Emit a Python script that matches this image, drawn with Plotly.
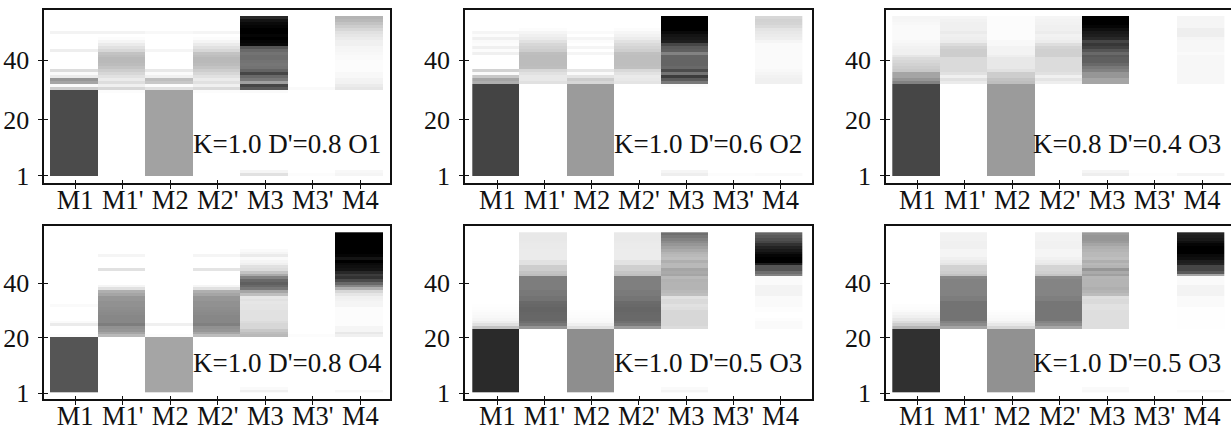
import plotly.graph_objects as go

COLUMNS = ["M1", "M1'", "M2", "M2'", "M3", "M3'", "M4"]
LABELS = ["K=1.0 D'=0.8 O1", "K=1.0 D'=0.6 O2", "K=0.8 D'=0.4 O3",
          "K=1.0 D'=0.8 O4", "K=1.0 D'=0.5 O3", "K=1.0 D'=0.5 O3"]
Y_TICK_TEXT = ["1", "20", "40"]

# Grey level of each cell (0 black .. 255 white), listed from row 1 upward.
P1_M1 = [75]*29 + [205, 250, 165, 150, 235, 250, 220, 255, 255, 255, 255, 255, 255, 238, 255, 255, 255, 255, 255, 243]
P1_M1p = [255]*28 + [252, 215, 240, 222, 235, 225, 215, 205, 195, 188, 185, 185, 190, 195, 215, 225, 235, 245, 252, 255, 243]
P1_M2 = [162]*29 + [225, 252, 200, 190, 240, 250, 232, 255, 255, 255, 255, 255, 255, 245, 255, 255, 255, 255, 255, 248]
P1_M2p = [255]*28 + [252, 218, 240, 225, 235, 225, 215, 205, 195, 188, 185, 185, 190, 195, 215, 225, 235, 245, 252, 255, 245]
P1_M3 = [225, 245] + [255]*26 + [250, 90, 70, 160, 120, 105, 70, 100, 115, 118, 115, 110, 110, 115, 105, 85, 10, 5, 0, 5, 0, 0, 5, 10, 20, 40]
P1_M3p = [252] + [255]*28 + [250]
P1_M4 = [245, 248] + [255]*27 + [230, 235, 242, 243, 248, 248, 252, 252, 252, 252, 250, 250, 248, 246, 245, 240, 240, 235, 230, 225, 215, 205, 195, 185, 180]

P2_M1 = [68]*31 + [175, 165, 200, 250, 210, 255, 255, 255, 255, 255, 240, 252, 240, 252, 250, 240, 252, 245]
P2_M1p = [255]*31 + [225, 232, 232, 225, 215, 190, 188, 188, 188, 188, 190, 205, 210, 215, 225, 235, 240, 245, 252]
P2_M2 = [155]*31 + [215, 205, 228, 250, 230, 255, 255, 255, 255, 255, 245, 255, 245, 255, 252, 245, 255, 250]
P2_M2p = [255]*31 + [228, 232, 234, 226, 216, 192, 190, 190, 190, 190, 192, 206, 212, 218, 226, 236, 242, 246, 252]
P2_M3 = [238, 245] + [255]*27 + [253, 250, 120, 90, 60, 115, 75, 105, 100, 100, 100, 100, 130, 95, 90, 70, 30, 25, 20, 10, 0, 0, 0, 0, 0]
P2_M3p = [252]
P2_M4 = [250] + [255]*30 + [240, 240, 242, 245, 248, 250, 250, 250, 250, 250, 250, 250, 250, 250, 245, 238, 235, 232, 228, 218, 212, 210, 215]

P3_M1 = [70]*31 + [130, 150, 165, 165, 200, 205, 210, 215, 220, 230, 240, 240, 242, 245, 248, 250, 250, 250, 250, 250, 248, 246, 245]
P3_M1p = [255]*31 + [235, 225, 240, 225, 218, 218, 218, 218, 218, 205, 205, 205, 210, 220, 235, 238, 240, 235, 240, 240, 240, 242, 245]
P3_M2 = [155]*31 + [190, 195, 205, 205, 225, 232, 232, 232, 232, 238, 243, 243, 243, 248, 248, 252, 252, 252, 252, 252, 252, 252, 252]
P3_M2p = [255]*31 + [238, 228, 240, 225, 220, 220, 220, 220, 220, 208, 208, 208, 212, 222, 236, 240, 242, 236, 240, 240, 242, 243, 245]
P3_M3 = [238, 245] + [255]*29 + [165, 165, 150, 150, 130, 120, 105, 95, 95, 90, 105, 85, 65, 55, 70, 40, 30, 25, 15, 5, 0, 0, 0]
P3_M3p = [253]
P3_M4 = [245] + [255]*30 + [247, 247, 247, 247, 247, 247, 247, 247, 247, 247, 250, 247, 247, 247, 247, 245, 238, 238, 238, 245, 245, 245, 245]

P4_M1 = [85]*20 + [252, 255, 255, 255, 235, 250, 255, 255, 255, 255, 255, 250]
P4_M1p = [255]*20 + [185, 165, 150, 145, 125, 135, 135, 135, 138, 140, 142, 145, 145, 150, 150, 165, 175, 225, 245, 255, 255, 255, 255, 255, 225, 255, 255, 255, 255, 245]
P4_M2 = [165]*20 + [252, 255, 255, 255, 240]
P4_M2p = [255]*20 + [188, 166, 150, 145, 128, 135, 135, 135, 138, 140, 142, 145, 145, 150, 150, 165, 175, 225, 245, 255, 255, 255, 255, 255, 228, 255, 255, 255, 255, 245]
P4_M3 = [240, 250] + [255]*18 + [185, 190, 200, 215, 215, 220, 225, 225, 225, 225, 228, 228, 230, 225, 230, 190, 165, 120, 105, 95, 105, 130, 170, 195, 220, 225, 240, 245, 250, 235, 245, 250]
P4_M3p = [254] + [255]*19 + [252]
P4_M4 = [248] + [255]*19 + [240, 232, 245, 245, 252, 252, 252, 252, 252, 252, 252, 245, 245, 242, 240, 230, 215, 175, 135, 105, 75, 50, 60, 40, 20, 15, 10, 0, 20, 5, 0, 0, 0, 0, 0, 0, 0, 0]

P5_M1 = [42]*23 + [195, 225, 238, 245, 248, 250, 252, 253, 254]
P5_M1p = [255]*23 + [150, 120, 110, 103, 103, 102, 100, 100, 103, 105, 115, 115, 120, 120, 125, 125, 125, 125, 125, 190, 195, 205, 205, 225, 225, 235, 235, 235, 235, 234, 234, 233, 232, 232, 232]
P5_M2 = [142]*23 + [225, 240, 248, 250, 252, 253, 254]
P5_M2p = [255]*23 + [155, 122, 112, 105, 105, 104, 102, 102, 105, 107, 117, 117, 122, 122, 127, 127, 127, 127, 127, 192, 197, 207, 207, 226, 226, 236, 236, 236, 236, 235, 235, 234, 233, 233, 233]
P5_M3 = [245, 250] + [255]*21 + [220, 215, 215, 215, 215, 215, 215, 222, 225, 218, 218, 225, 190, 185, 180, 180, 180, 178, 185, 165, 170, 165, 185, 185, 175, 190, 185, 180, 170, 160, 150, 140, 130, 120, 110]
P5_M3p = [255]
P5_M4 = [255]*23 + [250, 250, 250, 253, 255, 255, 253, 253, 250, 250, 250, 250, 243, 243, 243, 243, 250, 250, 250, 130, 110, 85, 85, 30, 0, 0, 5, 15, 25, 35, 50, 70, 80, 90, 100]

P6_M1 = [48]*23 + [180, 205, 220, 232, 240, 245, 250, 252, 253]
P6_M1p = [255]*23 + [165, 140, 130, 115, 115, 115, 115, 115, 115, 115, 125, 125, 130, 130, 130, 130, 130, 130, 135, 195, 205, 210, 210, 230, 235, 240, 245, 245, 245, 240, 240, 240, 242, 242, 242]
P6_M2 = [145]*23 + [215, 232, 242, 248, 250, 252, 254]
P6_M2p = [255]*23 + [168, 142, 132, 118, 118, 118, 118, 118, 118, 118, 127, 127, 132, 132, 132, 132, 132, 132, 137, 197, 207, 212, 212, 232, 236, 241, 245, 245, 245, 241, 241, 241, 243, 243, 243]
P6_M3 = [248, 250] + [255]*21 + [222, 222, 222, 222, 222, 222, 222, 225, 225, 218, 218, 222, 188, 180, 175, 180, 180, 180, 182, 160, 170, 150, 180, 185, 175, 190, 185, 185, 180, 175, 165, 155, 150, 150, 155]
P6_M3p = [254]
P6_M4 = [248] + [255]*22 + [254, 254, 254, 254, 254, 254, 254, 254, 250, 250, 250, 250, 243, 243, 243, 243, 250, 250, 250, 165, 90, 70, 70, 35, 30, 15, 10, 0, 0, 0, 5, 15, 25, 30, 35]

PANEL_VALUES = [
    [P1_M1, P1_M1p, P1_M2, P1_M2p, P1_M3, P1_M3p, P1_M4],
    [P2_M1, P2_M1p, P2_M2, P2_M2p, P2_M3, P2_M3p, P2_M4],
    [P3_M1, P3_M1p, P3_M2, P3_M2p, P3_M3, P3_M3p, P3_M4],
    [P4_M1, P4_M1p, P4_M2, P4_M2p, P4_M3, P4_M3p, P4_M4],
    [P5_M1, P5_M1p, P5_M2, P5_M2p, P5_M3, P5_M3p, P5_M4],
    [P6_M1, P6_M1p, P6_M2, P6_M2p, P6_M3, P6_M3p, P6_M4],
]
ROW_COUNTS = [54, 54, 54, 58, 58, 58]
Y_TICK_POS = [[0.5, 19.5, 39.5]] * 3 + [[0.14, 20.3, 40.0]] * 3

# Layout, all in pixels of the page
W, H = 1234, 430
FRAME_X = [(44.3, 390), (465, 811.7), (886, 1232)] * 2
CELLS_X = [(50, 382.7), (472.3, 802.7), (892.3, 1224.3)] * 2
FRAME_Y = [(10, 183.3)] * 3 + [(226, 399.3)] * 3
CELLS_Y = [(16, 175.7)] * 3 + [(232.3, 392.3)] * 3
LABEL_X = [193.3, 614, 1033] * 2
LABEL_Y = [144] * 3 + [363] * 3
INK = "#111111"
FONT = "Liberation Serif"

fig = go.Figure()
for i, values in enumerate(PANEL_VALUES):
    n = ROW_COUNTS[i]
    z = []
    for row in range(n):
        z.append([col[row] if row < len(col) else 255 for col in values])
    suffix = "" if i == 0 else str(i + 1)
    fig.add_trace(go.Heatmap(
        z=z, x=list(range(7)), y=list(range(1, n + 1)),
        zmin=0, zmax=255, showscale=False, xgap=0, ygap=0,
        colorscale=[[0, "#000000"], [1, "#ffffff"]],
        xaxis="x" + suffix, yaxis="y" + suffix,
    ))
    fl, fr = FRAME_X[i]
    ft, fb = FRAME_Y[i]
    cl, cr = CELLS_X[i]
    ct, cb = CELLS_Y[i]
    colw = (cr - cl) / 7
    rowh = (cb - ct) / n
    x_range = [-0.5 - (cl - fl) / colw, 6.5 + (fr - cr) / colw]
    y_range = [0.5 - (fb - cb) / rowh, n + 0.5 + (ct - ft) / rowh]
    xt = [k + 0.03 for k in range(7)]
    common = dict(showline=True, linecolor=INK, linewidth=1.7, mirror=True, automargin=False,
                  showgrid=False, zeroline=False, ticks="outside", ticklen=4,
                  tickwidth=1.3, tickcolor=INK, fixedrange=True)
    fig.update_layout({
        "xaxis" + suffix: dict(domain=[fl / W, fr / W], range=x_range, tickmode="array",
                               tickvals=xt, ticktext=COLUMNS, anchor="y" + suffix,
                               tickfont=dict(family=FONT, size=26.5, color=INK),
                               ticklabelstandoff=-12,
                               minor=dict(ticks="inside", ticklen=3, tickwidth=1.3, tickcolor=INK,
                                          tickmode="array", tickvals=[v + 0.002 for v in xt]),
                               **common),
        "yaxis" + suffix: dict(domain=[1 - fb / H, 1 - ft / H], range=y_range, tickmode="array",
                               tickvals=Y_TICK_POS[i], ticktext=Y_TICK_TEXT, anchor="x" + suffix,
                               tickfont=dict(family=FONT, size=26, color=INK),
                               ticklabelstandoff=4,
                               minor=dict(ticks="inside", ticklen=4, tickwidth=1.3, tickcolor=INK,
                                          tickmode="array",
                                          tickvals=[v + 0.002 for v in Y_TICK_POS[i]]),
                               **common),
    })
    fig.add_annotation(text=LABELS[i], xref="paper", yref="paper", showarrow=False,
                       x=LABEL_X[i] / W, y=1 - LABEL_Y[i] / H, xanchor="left", yanchor="middle",
                       xshift=-2, font=dict(family=FONT, size=27, color=INK))

fig.update_layout(width=W, height=H, margin=dict(l=0, r=0, t=0, b=0), autosize=False,
                  paper_bgcolor="white", plot_bgcolor="white", showlegend=False)
fig.write_html("out.html", config={"displayModeBar": False},
               post_script="document.body.style.margin='0';document.body.style.overflow='hidden';")
